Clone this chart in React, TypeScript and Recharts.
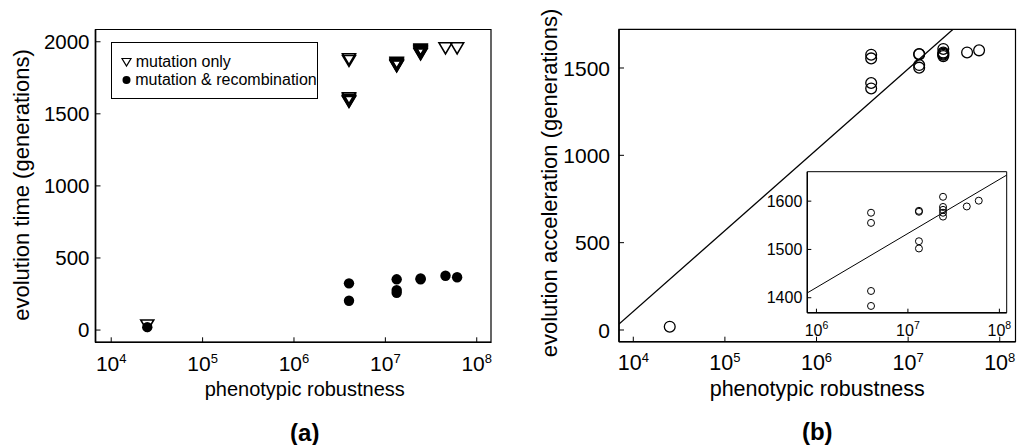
import React from 'react';
import {
  ScatterChart, Scatter, XAxis, YAxis, ReferenceArea, ReferenceLine, Legend,
} from 'recharts';

const FONT = '"Liberation Sans", Arial, Helvetica, sans-serif';

// ---------- data: panel (a) ----------
const mutOnlyX = [2.48e4, 4.0e6, 4.0e6, 4.0e6, 4.0e6, 4.0e6, 4.0e6, 1.33e7, 1.33e7, 1.33e7, 1.33e7, 1.33e7, 1.33e7, 2.43e7, 2.43e7, 2.43e7, 2.43e7, 2.43e7, 2.43e7, 2.43e7, 4.55e7, 6.1e7];
const mutOnlyY = [35, 1882, 1870, 1612, 1600, 1590, 1586, 1858, 1852, 1846, 1840, 1836, 1833, 1950, 1944, 1938, 1932, 1926, 1920, 1916, 1958, 1958];
const recombX = [2.48e4, 4.0e6, 4.0e6, 1.33e7, 1.33e7, 1.33e7, 2.43e7, 2.43e7, 4.55e7, 6.1e7];
const recombY = [20, 324, 203, 352, 277, 259, 358, 352, 377, 366];

// ---------- data: panel (b) ----------
const accelX = [2.5e4, 3.95e6, 3.95e6, 3.95e6, 3.95e6, 1.32e7, 1.32e7, 1.32e7, 1.32e7, 2.42e7, 2.42e7, 2.42e7, 2.42e7, 2.42e7, 4.4e7, 5.95e7];
const accelY = [19, 1576, 1555, 1414, 1383, 1580, 1578, 1517, 1502, 1609, 1588, 1582, 1576, 1568, 1589, 1601];
const fitMainX = [10 ** 3.844, 10 ** 8.172];
const fitMainY = [34, 2037];
const fitInsetX = [10 ** 5.9, 10 ** 8.08];
const fitInsetY = [1410, 1654];

// ---------- axes ----------
const logTicks = [1e4, 1e5, 1e6, 1e7, 1e8];
const insetLogTicks = [1e6, 1e7, 1e8];
const timeTicks = [0, 500, 1000, 1500, 2000];
const accelTicks = [0, 500, 1000, 1500];
const insetTicks = [1400, 1500, 1600];

const xDomA: [number, number] = [10 ** 3.828, 10 ** 8.156];
const yDomA: [number, number] = [-85, 2085];
const xDomB: [number, number] = [10 ** 3.844, 10 ** 8.172];
const yDomB: [number, number] = [-67, 1721.5];
const xDomI: [number, number] = [10 ** 5.9, 10 ** 8.08];
const yDomI: [number, number] = [1369, 1661];

const zip = (xs: number[], ys: number[]) => xs.map((x, i) => ({ x, y: ys[i] }));
const mutOnlyData = zip(mutOnlyX, mutOnlyY);
const recombData = zip(recombX, recombY);
const accelData = zip(accelX, accelY);

const makeXTick = (base: number, sup: number, dy: number, supShift: number, len: number) =>
  (props: any) => {
    const { x, y, payload } = props;
    const exp = Math.round(Math.log10(payload.value));
    return (
      <g>
        <line x1={x} y1={y} x2={x} y2={y - len} stroke="#000" strokeWidth={1} />
        <text x={x} y={y + dy} textAnchor="middle" fontSize={base} fontFamily={FONT} fill="#000">
          <tspan>10</tspan>
          <tspan dy={-supShift} fontSize={sup}>{exp}</tspan>
        </text>
      </g>
    );
  };

const makeYTick = (size: number, gap: number, len: number) =>
  (props: any) => {
    const { x, y, payload } = props;
    return (
      <g>
        <line x1={x} y1={y} x2={x + len} y2={y} stroke="#000" strokeWidth={1} />
        <text x={x - gap} y={y} dy="0.36em" textAnchor="end" fontSize={size} fontFamily={FONT} fill="#000">
          {payload.value}
        </text>
      </g>
    );
  };

const triangle = (props: any) => {
  const { cx, cy } = props;
  return (
    <path d={`M${cx - 6.5},${cy - 5} L${cx + 6.5},${cy - 5} L${cx},${cy + 6} Z`} fill="none" stroke="#000" strokeWidth={1.6} />
  );
};
const dot = (props: any) => <circle cx={props.cx} cy={props.cy} r={5.2} fill="#000" />;
const ring = (props: any) => <circle cx={props.cx} cy={props.cy} r={5.4} fill="none" stroke="#000" strokeWidth={1.3} />;
const smallRing = (props: any) => <circle cx={props.cx} cy={props.cy} r={3.5} fill="none" stroke="#000" strokeWidth={1} />;

const legendContent = () => (
  <div style={{ fontFamily: FONT, fontSize: 16, color: '#000', lineHeight: '18.5px', paddingTop: 10, paddingLeft: 8, whiteSpace: 'nowrap', textAlign: 'left' }}>
    <div style={{ display: 'flex', alignItems: 'center' }}>
      <svg width={14} height={12} style={{ marginRight: 2 }}>
        <path d="M2,2.5 L11,2.5 L6.5,10 Z" fill="none" stroke="#000" strokeWidth={1.2} />
      </svg>
      <span>mutation only</span>
    </div>
    <div style={{ display: 'flex', alignItems: 'center' }}>
      <svg width={14} height={12} style={{ marginRight: 2 }}>
        <circle cx={6.5} cy={6} r={4} fill="#000" />
      </svg>
      <span>mutation &amp; recombination</span>
    </div>
  </div>
);

const xLabel = (dx: number, fs: number, title: string) => (props: any) => {
  const vb = props.viewBox;
  const cx = vb.x + vb.width / 2 + dx;
  return (
    <g>
      <text x={cx} y={vb.y + 54} textAnchor="middle" fontSize={fs} fontFamily={FONT} fill="#000">phenotypic robustness</text>
      <text x={cx} y={vb.y + 98.5} textAnchor="middle" fontSize={24} fontWeight="bold" fontFamily={FONT} fill="#000">{title}</text>
    </g>
  );
};

const yLabel = (text: string, xOff: number, cyAbs: number, fs: number) => (props: any) => {
  const vb = props.viewBox;
  const x = vb.x + vb.width - xOff;
  return (
    <text x={x} y={cyAbs} transform={`rotate(-90 ${x} ${cyAbs})`} textAnchor="middle" fontSize={fs} fontFamily={FONT} fill="#000">
      {text}
    </text>
  );
};

export default function App() {
  return (
    <div style={{ position: 'absolute', left: 0, top: 0, width: 1017, height: 445, background: '#fff', overflow: 'hidden' }}>
      {/* panel (a) */}
      <div style={{ position: 'absolute', left: 0, top: 0 }}>
        <ScatterChart width={500} height={445} margin={{ top: 29.5, left: 94.5, right: 9, bottom: 101.7 }}>
          <XAxis dataKey="x" type="number" scale="log" domain={xDomA} allowDataOverflow ticks={logTicks}
            height={1} tickSize={0} tickMargin={0} tickLine={false} axisLine={{ stroke: '#000', strokeWidth: 1.6 }}
            tick={makeXTick(21, 13, 28.5, 8, 5)} interval={0}
            label={xLabel(11.5, 20, '(a)')} />
          <YAxis dataKey="y" type="number" domain={yDomA} allowDataOverflow ticks={timeTicks}
            width={1} tickSize={0} tickMargin={0} tickLine={false} axisLine={{ stroke: '#000', strokeWidth: 1.6 }}
            tick={makeYTick(20.5, 6, 5)} interval={0}
            label={yLabel('evolution time (generations)', 67, 185, 22)} />
          <ReferenceArea x1={xDomA[0]} x2={xDomA[1]} y1={yDomA[0]} y2={yDomA[1]} fill="none" stroke="#000" strokeWidth={1.2} fillOpacity={0} ifOverflow="visible" />
          <Scatter name="mutation only" data={mutOnlyData} shape={triangle} isAnimationActive={false} />
          <Scatter name="mutation & recombination" data={recombData} shape={dot} isAnimationActive={false} />
          <Legend layout="vertical" align="center" verticalAlign="middle" content={legendContent}
            wrapperStyle={{ position: 'absolute', left: 110.7, top: 41.7, width: 207, height: 57, border: '1.3px solid #000', boxSizing: 'border-box', background: '#fff' }} />
        </ScatterChart>
      </div>

      {/* panel (b) */}
      <div style={{ position: 'absolute', left: 500, top: 0 }}>
        <ScatterChart width={517} height={445} margin={{ top: 29.3, left: 118, right: 1.5, bottom: 102.3 }}>
          <XAxis dataKey="x" type="number" scale="log" domain={xDomB} allowDataOverflow ticks={logTicks}
            height={1} tickSize={0} tickMargin={0} tickLine={false} axisLine={{ stroke: '#000', strokeWidth: 1.6 }}
            tick={makeXTick(21.5, 13, 28.5, 8, 5)} interval={0}
            label={xLabel(0, 21.5, '(b)')} />
          <YAxis dataKey="y" type="number" domain={yDomB} allowDataOverflow ticks={accelTicks}
            width={1} tickSize={0} tickMargin={0} tickLine={false} axisLine={{ stroke: '#000', strokeWidth: 1.6 }}
            tick={makeYTick(21, 9, 5)} interval={0}
            label={yLabel('evolution acceleration (generations)', 62, 183, 22)} />
          <ReferenceArea x1={xDomB[0]} x2={xDomB[1]} y1={yDomB[0]} y2={yDomB[1]} fill="none" stroke="#000" strokeWidth={1.2} fillOpacity={0} ifOverflow="visible" />
          <ReferenceLine segment={[{ x: fitMainX[0], y: fitMainY[0] }, { x: fitMainX[1], y: fitMainY[1] }]} stroke="#000" strokeWidth={1.3} ifOverflow="hidden" />
          <Scatter data={accelData} shape={ring} isAnimationActive={false} />
        </ScatterChart>
      </div>

      {/* inset */}
      <div style={{ position: 'absolute', left: 760, top: 160 }}>
        <ScatterChart width={257} height={190} margin={{ top: 11.7, left: 46.3, right: 10.3, bottom: 36.3 }}>
          <XAxis dataKey="x" type="number" scale="log" domain={xDomI} allowDataOverflow ticks={insetLogTicks}
            height={1} tickSize={0} tickMargin={0} tickLine={false} axisLine={{ stroke: '#000', strokeWidth: 1.4 }}
            tick={makeXTick(16, 10.5, 23.5, 7, 4)} interval={0} />
          <YAxis dataKey="y" type="number" domain={yDomI} allowDataOverflow ticks={insetTicks}
            width={1} tickSize={0} tickMargin={0} tickLine={false} axisLine={{ stroke: '#000', strokeWidth: 1.4 }}
            tick={makeYTick(16, 5, 4)} interval={0} />
          <ReferenceArea x1={xDomI[0]} x2={xDomI[1]} y1={yDomI[0]} y2={yDomI[1]} fill="#fff" fillOpacity={0} stroke="#000" strokeWidth={1} ifOverflow="visible" />
          <ReferenceLine segment={[{ x: fitInsetX[0], y: fitInsetY[0] }, { x: fitInsetX[1], y: fitInsetY[1] }]} stroke="#000" strokeWidth={1} ifOverflow="hidden" />
          <Scatter data={accelData} shape={smallRing} isAnimationActive={false} />
        </ScatterChart>
      </div>
    </div>
  );
}
